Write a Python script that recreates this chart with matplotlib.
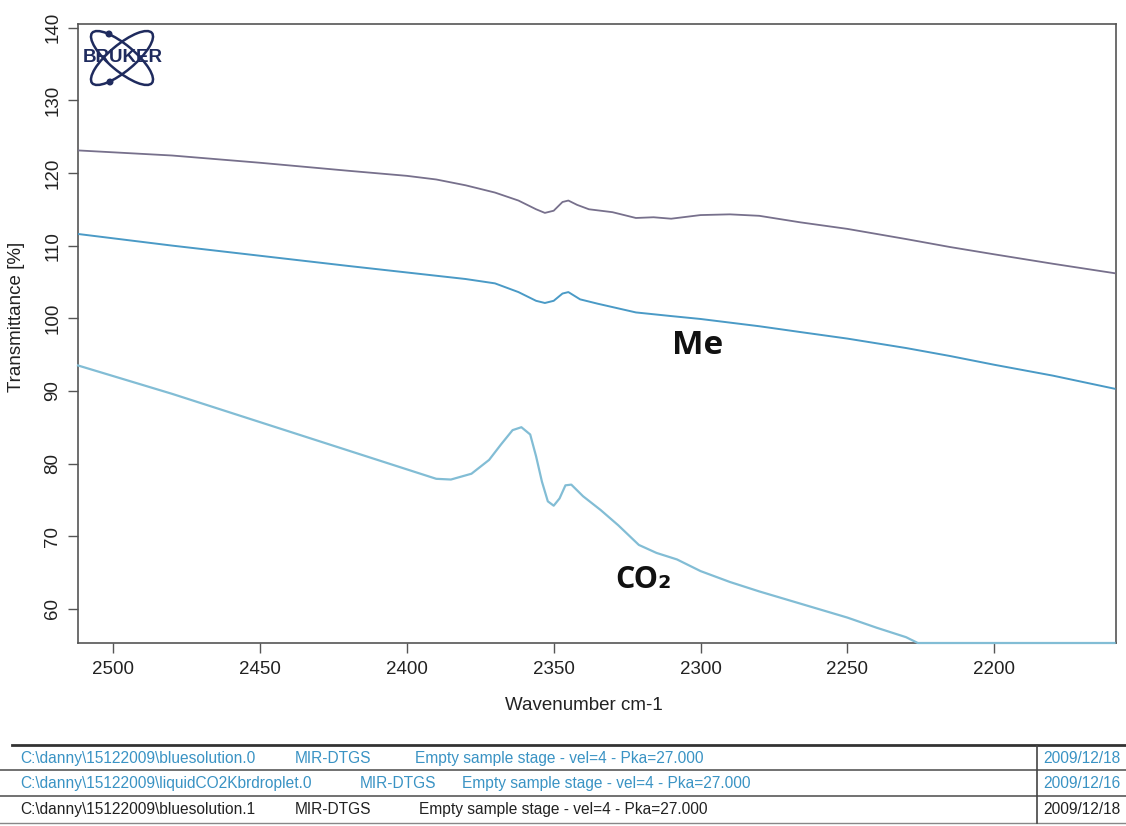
import matplotlib
matplotlib.use("Agg")
import matplotlib.pyplot as plt
from matplotlib.patches import Ellipse, Circle
import numpy as np

plt.rcParams['font.family'] = ['Liberation Sans', 'DejaVu Sans']

# ---------------- data ----------------
wn_top = [2512, 2480, 2450, 2420, 2400, 2390, 2380, 2370, 2362, 2356, 2353,
          2350, 2347, 2345, 2342, 2338, 2330, 2322, 2316, 2310, 2300, 2290,
          2280, 2266, 2250, 2230, 2215, 2200, 2180, 2159]
t_top = [123.1, 122.4, 121.4, 120.3, 119.6, 119.1, 118.3, 117.3, 116.2, 115.0, 114.5,
         114.8, 116.0, 116.2, 115.6, 115.0, 114.6, 113.8, 113.9, 113.7, 114.2, 114.3,
         114.1, 113.2, 112.3, 110.9, 109.8, 108.8, 107.5, 106.2]

wn_me = [2512, 2480, 2450, 2420, 2400, 2380, 2370, 2362, 2356, 2353, 2350,
         2347, 2345, 2341, 2335, 2322, 2310, 2300, 2280, 2266, 2250, 2230,
         2215, 2200, 2180, 2159]
t_me = [111.6, 110.0, 108.6, 107.2, 106.3, 105.4, 104.8, 103.6, 102.4, 102.1, 102.4,
        103.4, 103.6, 102.6, 102.0, 100.8, 100.3, 99.9, 98.9, 98.1, 97.2, 95.9,
        94.8, 93.6, 92.1, 90.3]

wn_co2 = [2512, 2480, 2450, 2420, 2400, 2390, 2385, 2378, 2372, 2368, 2364,
          2361, 2358, 2356, 2354, 2352, 2350, 2348, 2346, 2344, 2340, 2334,
          2328, 2321, 2315, 2308, 2300, 2290, 2280, 2270, 2260, 2250, 2240,
          2230, 2226, 2200, 2159]
t_co2 = [93.5, 89.6, 85.7, 81.8, 79.2, 77.9, 77.8, 78.6, 80.5, 82.6, 84.6,
         85.0, 84.0, 81.0, 77.5, 74.8, 74.2, 75.2, 77.0, 77.1, 75.5, 73.6,
         71.5, 68.8, 67.7, 66.8, 65.2, 63.7, 62.4, 61.2, 60.0, 58.8, 57.4,
         56.1, 55.3, 55.3, 55.3]

x_ticks = [2500, 2450, 2400, 2350, 2300, 2250, 2200]
y_ticks = [60, 70, 80, 90, 100, 110, 120, 130, 140]

table_paths = ["C:\\danny\\15122009\\bluesolution.0",
               "C:\\danny\\15122009\\liquidCO2Kbrdroplet.0",
               "C:\\danny\\15122009\\bluesolution.1"]
table_instr = ["MIR-DTGS", "MIR-DTGS", "MIR-DTGS"]
table_desc = ["Empty sample stage - vel=4 - Pka=27.000"] * 3
table_dates = ["2009/12/18", "2009/12/16", "2009/12/18"]

# ---------------- figure ----------------
W, H = 1126, 826
fig = plt.figure(figsize=(W / 100, H / 100), dpi=100)
fig.patch.set_facecolor("white")

L, R, T, B = 78, 1116, 24, 643
ax = fig.add_axes([L / W, 1 - B / H, (R - L) / W, (B - T) / H])

ax.plot(wn_top, t_top, color="#77708c", lw=1.3, zorder=3)
ax.plot(wn_me, t_me, color="#4a9ac6", lw=1.4, zorder=3)
ax.plot(wn_co2, t_co2, color="#82bdd5", lw=1.6, zorder=3, clip_on=False)

ax.set_xlim(2512, 2158.5)
ax.set_ylim(55.3, 140.5)
ax.set_xticks(x_ticks)
ax.set_yticks(y_ticks)
ax.tick_params(axis="both", direction="out", length=7, width=1.0,
               color="#555555", labelsize=13.5, labelcolor="#222222")
ax.tick_params(axis="x", pad=6)
ax.tick_params(axis="y", pad=5)
for lab in ax.get_yticklabels():
    lab.set_rotation(90)
    lab.set_va("center")
for s in ax.spines.values():
    s.set_color("#555555")
    s.set_linewidth(1.2)
    s.set_zorder(2)

ax.set_xlabel("Wavenumber cm-1", fontsize=13.5, color="#222222")
ax.xaxis.set_label_coords(0.487, -0.088)
ax.set_ylabel("Transmittance [%]", fontsize=13.5, color="#222222")
ax.yaxis.set_label_coords(-0.051, 0.527)

ax.text(2301, 96.3, "Me", fontsize=24, fontweight="bold",
        family=["Open Sans", "DejaVu Sans"], ha="center", va="center", color="#111111")
ax.text(2319.5, 64.0, "CO\u2082", fontsize=22, fontweight="bold",
        family=["Open Sans", "DejaVu Sans"], ha="center", va="center", color="#111111")

# ---------------- overlay in pixel coordinates ----------------
ov = fig.add_axes([0, 0, 1, 1], zorder=5)
ov.set_xlim(0, W)
ov.set_ylim(H, 0)
ov.axis("off")
ov.patch.set_alpha(0)

# Bruker logo
navy = "#1f2b5e"
ov.add_patch(Ellipse((122, 58), 78, 26, angle=40, fill=False, ec=navy, lw=1.8))
ov.add_patch(Ellipse((122, 58), 78, 26, angle=-40, fill=False, ec=navy, lw=1.8))
ov.add_patch(Circle((109, 34), 2.8, color=navy))
ov.add_patch(Circle((110, 82), 2.8, color=navy))
ov.text(123, 58, "BRUKER", fontsize=13.5, fontweight="bold", color=navy,
        ha="center", va="center", family=["Liberation Sans"])

# table
ov.plot([12, W], [745, 745], color="#333333", lw=2.0)
ov.plot([0, W], [770, 770], color="#666666", lw=1.3)
ov.plot([0, W], [796, 796], color="#666666", lw=1.3)
ov.plot([0, W], [823, 823], color="#888888", lw=1.0)
ov.plot([1037, 1037], [745, 823], color="#444444", lw=1.2)

blue = "#3a93c4"
dark = "#222222"
row_base = [763, 788, 814]
instr_x = [295, 360, 295]
desc_x = [415, 462, 419]
colors = [blue, blue, dark]
for i in range(3):
    kw = dict(fontsize=11.2, va="baseline", ha="left", color=colors[i])
    ov.text(20, row_base[i], table_paths[i], **kw)
    ov.text(instr_x[i], row_base[i], table_instr[i], **kw)
    ov.text(desc_x[i], row_base[i], table_desc[i], **kw)
    ov.text(1043, row_base[i], table_dates[i], clip_on=False, **kw)

fig.savefig("out.png", dpi=100, facecolor="white")
